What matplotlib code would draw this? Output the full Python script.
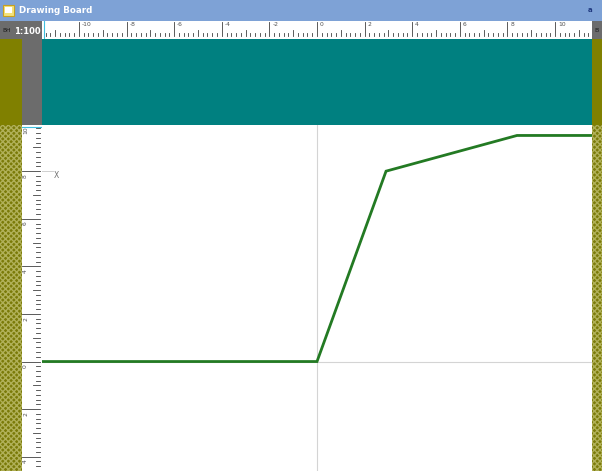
import matplotlib
matplotlib.use("Agg")
import matplotlib.pyplot as plt
from matplotlib.patches import Rectangle
import numpy as np

# ---- data ----
line_x = [-12.0, 0.0, 2.9, 8.4, 12.0]
line_y = [0.0, 0.0, 8.0, 9.5, 9.5]
x_ruler_labels = ["-10", "-8", "-6", "-4", "-2", "0", "2", "4", "6", "8", "10"]
x_ruler_values = [-10, -8, -6, -4, -2, 0, 2, 4, 6, 8, 10]
y_ruler_labels = ["10", "8", "6", "4", "2", "0", "2", "4"]
y_ruler_values = [10, 8, 6, 4, 2, 0, -2, -4]
title = "Drawing Board"
scale_text = "1:100"

W, H = 602, 471
XLIM = (-11.55, 11.55)
YLIM = (-4.6, 9.94)

plt.rcParams['hatch.linewidth'] = 1.0
fig = plt.figure(figsize=(W / 100, H / 100), dpi=100)


def px_axes(x0, y0, x1, y1, **kw):
    return fig.add_axes([x0 / W, 1 - y1 / H, (x1 - x0) / W, (y1 - y0) / H], **kw)


# background decoration axes in pixel coordinates
bg = px_axes(0, 0, W, H)
bg.set_xlim(0, W)
bg.set_ylim(H, 0)
bg.axis("off")

# title bar
bg.add_patch(Rectangle((0, 0), W, 21, color="#7ea2d6", lw=0))
bg.add_patch(Rectangle((3, 5), 11, 11, facecolor="#f3e27a", edgecolor="#c8a020", lw=0.8))
bg.add_patch(Rectangle((5, 7), 7, 6, facecolor="#ffffff", lw=0))
bg.text(19, 10.5, title, color="white", fontsize=6.3, fontweight="bold", va="center", ha="left")
bg.text(590, 10.5, "a", color="#203a80", fontsize=5, va="center", ha="center", fontweight="bold")

# ruler label boxes
bg.add_patch(Rectangle((0, 21), 42, 19, color="#6c6c6c", lw=0))
bg.text(2, 31, "BH", color="#1a1a1a", fontsize=4.2, va="center", ha="left")
bg.add_patch(Rectangle((592, 21), 10, 19, color="#6c6c6c", lw=0))
bg.text(594, 31, "B", color="#1a1a1a", fontsize=4.5, va="center", ha="left")

# teal header band and side strips
bg.add_patch(Rectangle((42, 39), 550, 86, color="#008080", lw=0))
bg.add_patch(Rectangle((0, 39), 22, 86, color="#808000", lw=0))
bg.add_patch(Rectangle((22, 39), 20, 86, color="#6c6c6c", lw=0))
bg.add_patch(Rectangle((592, 39), 10, 86, color="#808000", lw=0))

# checkered strips
bg.add_patch(Rectangle((0, 125), 22, H - 125, facecolor="#7a7a08", edgecolor="#b0b058",
                       hatch="xxxxxx", lw=0))
bg.add_patch(Rectangle((592, 125), 10, H - 125, facecolor="#7a7a08", edgecolor="#b0b058",
                       hatch="xxxxxx", lw=0))

# ---- main drawing axes ----
ax = px_axes(42, 125, 592, H)
ax.set_xlim(*XLIM)
ax.set_ylim(*YLIM)
ax.set_facecolor("white")
for s in ax.spines.values():
    s.set_visible(False)
ax.set_xticks([])
ax.set_yticks([])
ax.axvline(0, color="#d4d4d4", lw=0.8, zorder=1)
ax.axhline(0, color="#d4d4d4", lw=0.8, zorder=1)
ax.plot(line_x, line_y, color="#237a23", lw=2.0, solid_joinstyle="miter", zorder=3)
ax.plot([XLIM[0], XLIM[0] + 0.45], [8, 8], color="#cfcfcf", lw=0.7, clip_on=False)
ax.text(XLIM[0] + 0.5, 7.8, "X", color="#707070", fontsize=5.5, va="center", ha="left")

# ---- horizontal ruler ----
hr = px_axes(42, 21, 592, 39)
hr.set_xlim(*XLIM)
hr.set_ylim(18, 0)
hr.axis("off")
hr.add_patch(Rectangle((XLIM[0], 0), XLIM[1] - XLIM[0], 18, color="white", lw=0))
ticks = np.arange(-11.4, 11.5, 0.2)
for t in ticks:
    r = round(t, 1)
    if abs(r - round(r)) < 1e-6:
        if int(round(r)) % 2 == 0:
            top = 1
        else:
            top = 9
    else:
        top = 12
    hr.plot([r, r], [top, 15], color="#404040", lw=0.6)
for v, lab in zip(x_ruler_values, x_ruler_labels):
    hr.text(v + 0.12, 1.5, lab, color="#505050", fontsize=4.3, va="top", ha="left")
hr.plot([-11.45, -11.45], [0, 18], color="#40c0e0", lw=0.8)

# ---- vertical ruler ----
vr = px_axes(22, 125, 42, H)
vr.set_xlim(0, 20)
vr.set_ylim(*YLIM)
vr.axis("off")
vr.add_patch(Rectangle((0, YLIM[0]), 20, YLIM[1] - YLIM[0], color="white", lw=0))
yt = np.arange(-4.6, 10.0, 0.2)
for t in yt:
    r = round(t, 1)
    if abs(r - round(r)) < 1e-6:
        if int(round(r)) % 2 == 0:
            left = 0
        else:
            left = 11
    else:
        left = 14
    vr.plot([left, 18], [r, r], color="#404040", lw=0.6)
for v, lab in zip(y_ruler_values, y_ruler_labels):
    vr.text(1, v - 0.12, lab, color="#505050", fontsize=4.3, va="top", ha="left", rotation=90)
vr.plot([0, 20], [9.85, 9.85], color="#40c0e0", lw=0.8)

# scale label on top of everything
fig.text(14 / W, 1 - 31 / H, scale_text, color="white", fontsize=6.0, fontweight="bold",
         va="center", ha="left", zorder=10)

fig.savefig("out.png", dpi=100)
